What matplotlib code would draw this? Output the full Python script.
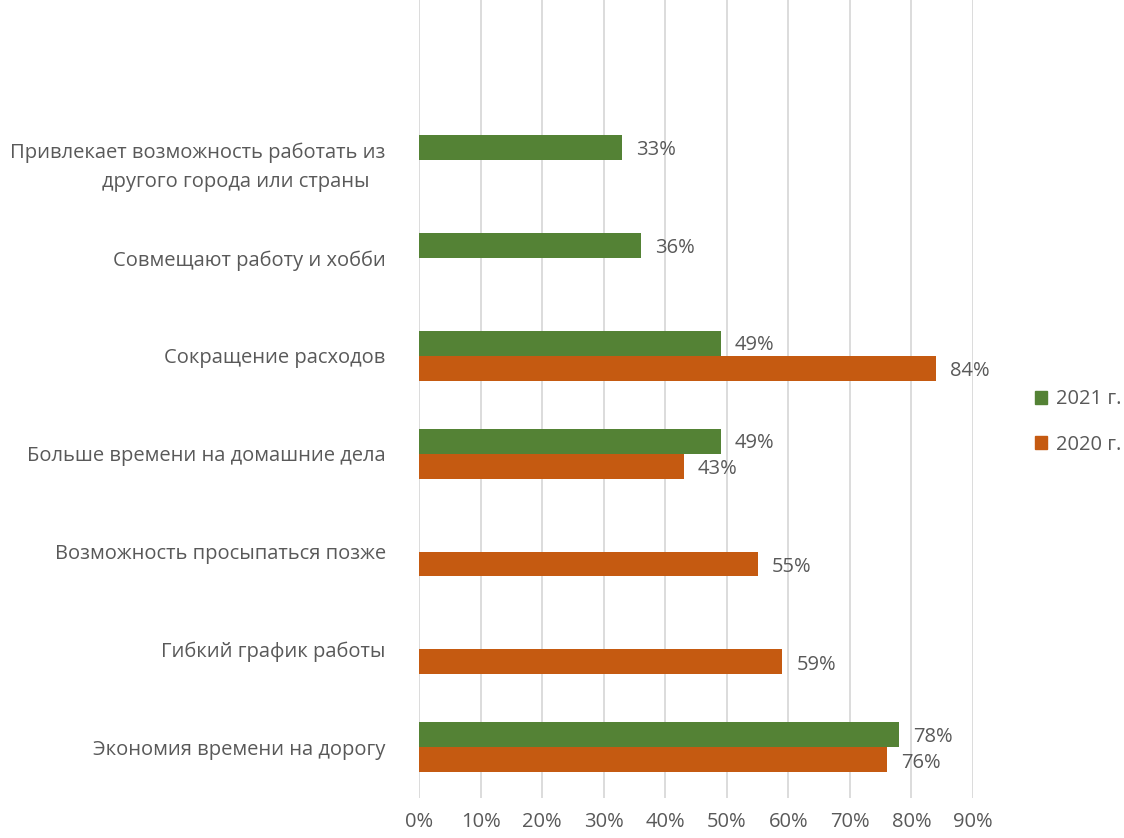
import matplotlib
matplotlib.use("Agg")
import matplotlib.pyplot as plt
import numpy as np
from matplotlib.patches import Patch

categories = [
    "Привлекает возможность работать из\nдругого города или страны   ",
    "Совмещают работу и хобби",
    "Сокращение расходов",
    "Больше времени на домашние дела",
    "Возможность просыпаться позже",
    "Гибкий график работы",
    "Экономия времени на дорогу",
]
values_2021 = [33, 36, 49, 49, None, None, 78]
values_2020 = [None, None, 84, 43, 55, 59, 76]
series_names = ["2021 г.", "2020 г."]
xticks = [0, 10, 20, 30, 40, 50, 60, 70, 80, 90]

green = "#548235"
orange = "#C55A11"
txt = "#595959"
fs = 14.5

plt.rcParams['font.family'] = ['Open Sans', 'DejaVu Sans']

fig = plt.figure(figsize=(11.24, 8.38), dpi=100)
ax = fig.add_axes([419/1124, 40/838, (973-419)/1124, 798/838])

y = np.arange(len(categories))
h = 0.255
for i in range(len(categories)):
    v21 = values_2021[i]
    v20 = values_2020[i]
    if v21 is not None:
        ax.barh(y[i] - h/2, v21, height=h, color=green, zorder=3)
        ax.text(v21 + 2.3, y[i] - h/2 + 0.02, f"{v21}%", va="center", ha="left",
                fontsize=fs, color=txt)
    if v20 is not None:
        ax.barh(y[i] + h/2, v20, height=h, color=orange, zorder=3)
        ax.text(v20 + 2.3, y[i] + h/2 + 0.03, f"{v20}%", va="center", ha="left",
                fontsize=fs, color=txt)

ax.set_xlim(0, 90)
ax.set_ylim(6.52, -1.64)
ax.set_xticks(xticks)
ax.set_xticklabels([f"{t}%" for t in xticks], fontsize=fs, color=txt)
ax.set_yticks(y)
ax.set_yticklabels(categories, fontsize=fs, color=txt, linespacing=1.6)
ax.tick_params(axis="y", length=0, pad=24)
ax.tick_params(axis="x", length=0, pad=10)
for lbl in ax.get_yticklabels():
    lbl.set_horizontalalignment("right")
    lbl.set_multialignment("right")
ax.get_yticklabels()[0].set_y(-0.04)
ax.xaxis.grid(True, color="#d9d9d9", linewidth=1.3, zorder=0)
ax.set_axisbelow(True)
for s in ax.spines.values():
    s.set_visible(False)

handles = [Patch(color=green, label=series_names[0]),
           Patch(color=orange, label=series_names[1])]
fig.legend(handles=handles, loc="center left", bbox_to_anchor=(1035/1124, 1 - 422/838),
           frameon=False, fontsize=fs, labelcolor=txt, handlelength=0.6,
           handleheight=0.6, handletextpad=0.45, labelspacing=1.25,
           borderpad=0, borderaxespad=0)

fig.savefig("out.png", dpi=100)
